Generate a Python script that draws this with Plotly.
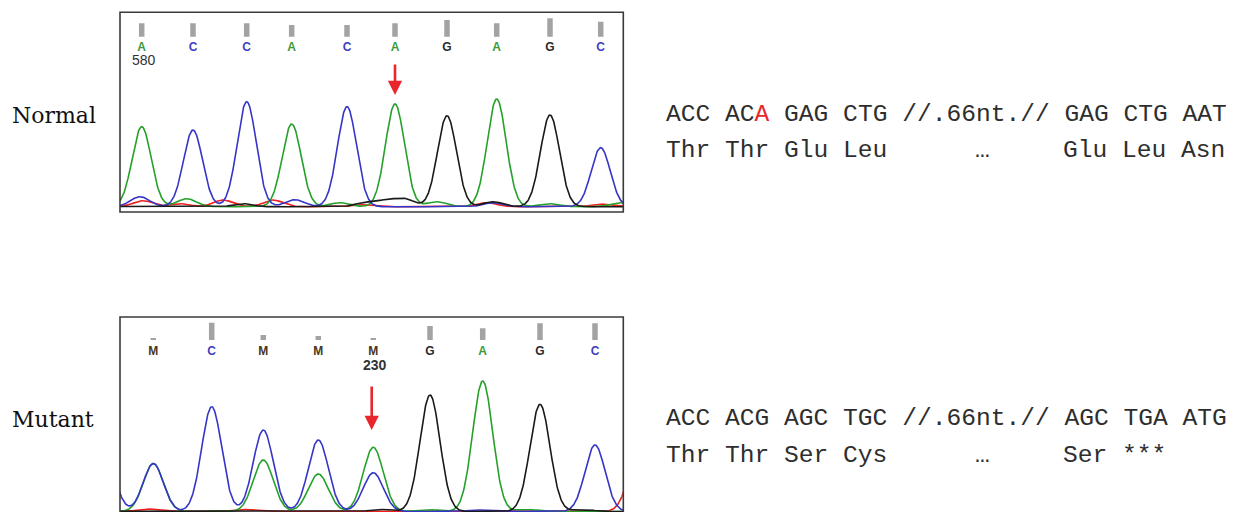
import numpy as np
import plotly.graph_objects as go

# ---------------- DATA ----------------
# Normal (top) trace
top_calls = ["A", "C", "C", "A", "C", "A", "G", "A", "G", "C"]
top_call_pos = [21.7, 73, 126.7, 171.7, 227, 275, 327, 376.7, 430, 480.7]
top_qual = [13.4, 13.4, 13.4, 11.7, 11.7, 13.4, 16.7, 13.4, 18.4, 15]

top_A_pos = [21.7, 171.7, 275, 376.7, 66.7, 220, 316.7, 430, 500]
top_A_h = [80, 82.7, 102.7, 107.7, 8, 4, 5, 3, 4]
top_C_pos = [73, 126.7, 227, 480.7, 20, 175, 373]
top_C_h = [76.7, 105, 100, 59, 10, 7, 4]
top_G_pos = [327, 430, 123, 245, 266, 285, 373]
top_G_h = [91, 91.7, 3, 4, 6, 7.5, 5]
top_T_pos = [23, 60, 103, 153, 240, 367, 480]
top_T_h = [6, 3, 6.7, 6.7, 2, 4, 2.7]

# Mutant (bottom) trace
bot_calls = ["M", "C", "M", "M", "M", "G", "A", "G", "C"]
bot_call_pos = [33.3, 91.7, 143.3, 198.3, 253.3, 310, 362.7, 420, 475]
bot_qual = [1.5, 17.3, 5, 4, 1.7, 14, 11.7, 16.7, 16.7]

bot_A_pos = [33.3, 143.3, 198.3, 253.3, 362.7, 307, 407]
bot_A_h = [48, 51.5, 37.5, 64.2, 130.5, 2, 2]
bot_C_pos = [-15, 33.3, 91.7, 143.3, 198.3, 253.3, 475, 357]
bot_C_h = [55, 48, 104.8, 81.5, 71.5, 38.8, 66.5, 1.5]
bot_G_pos = [310, 420, 260, 463]
bot_G_h = [116.5, 107.2, 2, 2]
bot_T_pos = [27, 123, 518]
bot_T_h = [2.5, 2, 55]

top_pos_label = "580"
bot_pos_label = "230"
top_arrow_pos = 275
bot_arrow_pos = 251.7

normal_seq = "ACC AC<span style='color:#e8262b'>A</span> GAG CTG //.66nt.// GAG CTG AAT"
normal_aa_left = "Thr Thr Glu Leu"
normal_aa_right = "Glu Leu Asn"
mutant_seq = "ACC ACG AGC TGC //.66nt.// AGC TGA ATG"
mutant_aa_left = "Thr Thr Ser Cys"
mutant_aa_right = "Ser ***"

# ---------------- STYLE / LAYOUT ----------------
OFF = 8                       # page body margin
W, H = 1234 - OFF, 512 - OFF  # figure size so that it fills the window


def px(xp):
    return (xp - OFF) / W


def py(yp):
    return 1 - (yp - OFF) / H


chan_color = {"A": "#25a02a", "C": "#3535c8", "G": "#1a1a1a", "T": "#ee2020"}
call_color = {"A": "#3c9a3c", "C": "#3f3fbf", "G": "#2a2a2a", "M": "#4a3520"}
SIG_TOP, SIG_BOT = 9.5, 10.0

xs = np.arange(-40, 545, 0.5)


def signal(pos, h, sig):
    y = np.zeros_like(xs)
    for p, hh in zip(pos, h):
        y += hh * np.exp(-((xs - p) ** 2) / (2 * sig ** 2))
    return y


fig = go.Figure()

panels = [
    ("x", "y", SIG_TOP,
     [("T", top_T_pos, top_T_h), ("A", top_A_pos, top_A_h),
      ("C", top_C_pos, top_C_h), ("G", top_G_pos, top_G_h)],
     top_calls, top_call_pos, top_qual, 170, 159),
    ("x2", "y2", SIG_BOT,
     [("T", bot_T_pos, bot_T_h), ("A", bot_A_pos, bot_A_h),
      ("C", bot_C_pos, bot_C_h), ("G", bot_G_pos, bot_G_h)],
     bot_calls, bot_call_pos, bot_qual, 171.5, 159.8),
]

for xa, ya, sig, chans, calls, cpos, qual, qbase, ly in panels:
    for ch, p, h in chans:
        fig.add_trace(go.Scatter(x=xs, y=signal(p, h, sig), mode="lines",
                                 line=dict(color=chan_color[ch], width=1.6),
                                 xaxis=xa, yaxis=ya, hoverinfo="skip"))
    fig.add_trace(go.Bar(x=cpos, y=qual, base=qbase, width=5.5,
                         marker=dict(color="#a3a3a3", line=dict(width=0)),
                         xaxis=xa, yaxis=ya, hoverinfo="skip"))
    fig.add_trace(go.Scatter(x=cpos, y=[ly] * len(cpos), mode="text", text=calls,
                             textfont=dict(family="Liberation Sans", size=12,
                                           color=[call_color[c] for c in calls],
                                           weight="bold"),
                             xaxis=xa, yaxis=ya, hoverinfo="skip"))

ax_common = dict(showgrid=False, zeroline=False, showticklabels=False,
                 ticks="", showline=False)
fig.update_layout(
    width=W, height=H, margin=dict(l=0, r=0, t=0, b=0),
    paper_bgcolor="white", plot_bgcolor="white", showlegend=False,
    barmode="overlay",
    xaxis=dict(domain=[px(120), px(623.3)], range=[0, 503.3], **ax_common),
    yaxis=dict(domain=[py(212), py(12.3)], range=[-5.3, 194.4], **ax_common),
    xaxis2=dict(domain=[px(120), px(623.3)], range=[0, 503.3], anchor="y2", **ax_common),
    yaxis2=dict(domain=[0, py(317)], range=[-0.5, 194.5], anchor="x2", **ax_common),
)

# panel frames
fig.add_shape(type="rect", xref="x domain", yref="y domain", x0=0, x1=1, y0=0, y1=1,
              line=dict(color="#3a3a3a", width=1.6), layer="above")
fig.add_shape(type="rect", xref="x2 domain", yref="y2 domain", x0=0, x1=1, y0=-0.1, y1=1,
              line=dict(color="#3a3a3a", width=1.6), layer="above")

# position numbers
fig.add_annotation(x=top_call_pos[0] + 1.8, y=146.7, xref="x", yref="y", text=top_pos_label,
                   showarrow=False, font=dict(family="Liberation Sans", size=14, color="#333"))
fig.add_annotation(x=bot_call_pos[4] + 1.7, y=146.5, xref="x2", yref="y2", text=bot_pos_label,
                   showarrow=False, font=dict(family="Liberation Sans", size=14, color="#333",
                                              weight="bold"))

# red arrows
fig.add_annotation(x=top_arrow_pos, y=111.7, xref="x", yref="y", ax=0, ay=-32, text="",
                   showarrow=True, arrowhead=2, arrowsize=1.1, arrowwidth=2.6,
                   arrowcolor="#e8262b", standoff=0)
fig.add_annotation(x=bot_arrow_pos, y=81.5, xref="x2", yref="y2", ax=0, ay=-45, text="",
                   showarrow=True, arrowhead=2, arrowsize=1.1, arrowwidth=2.6,
                   arrowcolor="#e8262b", standoff=0)

# row labels
for txt, yc in [("Normal", 115), ("Mutant", 419)]:
    fig.add_annotation(x=px(12), y=py(yc), xref="paper", yref="paper", text=txt,
                       xanchor="left", yanchor="middle", showarrow=False,
                       borderpad=0, borderwidth=0,
                       font=dict(family="DejaVu Serif", size=22, color="#111"))

# sequence text
mono = dict(family="Liberation Mono", size=24.6, color="#2e2e2e")
rows = [
    (normal_seq, normal_aa_left, normal_aa_right, 114.2, 150.8),
    (mutant_seq, mutant_aa_left, mutant_aa_right, 418.5, 455),
]
for seq, aal, aar, y1, y2 in rows:
    fig.add_annotation(x=px(666), y=py(y1), xref="paper", yref="paper", text=seq,
                       xanchor="left", yanchor="middle", showarrow=False,
                       borderpad=0, borderwidth=0, font=mono)
    fig.add_annotation(x=px(666), y=py(y2), xref="paper", yref="paper", text=aal,
                       xanchor="left", yanchor="middle", showarrow=False,
                       borderpad=0, borderwidth=0, font=mono)
    fig.add_annotation(x=px(982), y=py(y2), xref="paper", yref="paper", text="…",
                       xanchor="center", yanchor="middle", showarrow=False,
                       borderpad=0, borderwidth=0, font=mono)
    fig.add_annotation(x=px(1063), y=py(y2), xref="paper", yref="paper", text=aar,
                       xanchor="left", yanchor="middle", showarrow=False,
                       borderpad=0, borderwidth=0, font=mono)

fig.write_html("out.html")
